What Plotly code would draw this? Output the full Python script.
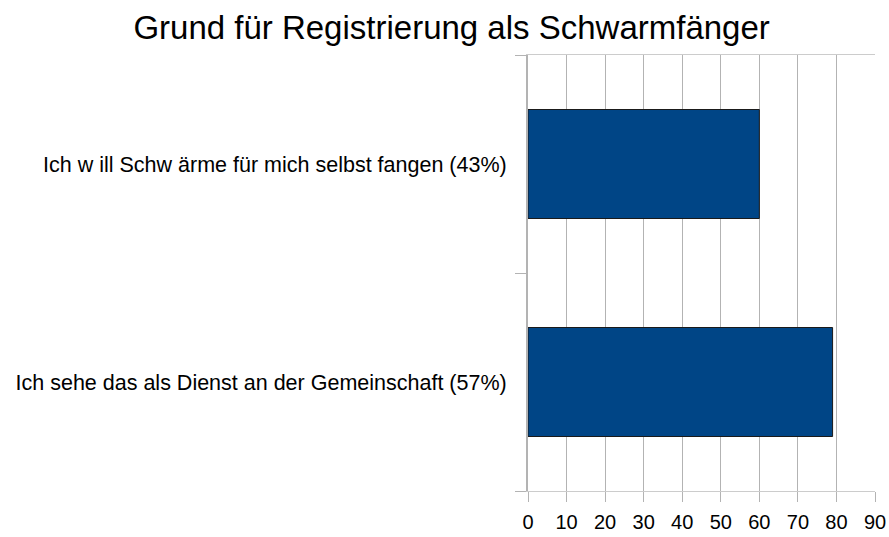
import plotly.graph_objects as go

categories = [
    "Ich w ill Schw ärme für mich selbst fangen (43%)",
    "Ich sehe das als Dienst an der Gemeinschaft (57%)",
]
values = [60, 79]
x_ticks = [0, 10, 20, 30, 40, 50, 60, 70, 80, 90]

fig = go.Figure(
    go.Bar(
        x=values,
        y=categories,
        orientation="h",
        width=0.5,
        marker=dict(color="#004586", line=dict(color="#1a1a1a", width=1)),
    )
)

fig.update_layout(
    width=889,
    height=537,
    paper_bgcolor="white",
    plot_bgcolor="white",
    margin=dict(l=528, r=14, t=55, b=46),
    showlegend=False,
    font=dict(family="Liberation Sans, Arial, sans-serif", color="black"),
    title=dict(
        text="Grund für Registrierung als Schwarmfänger",
        x=0.508,
        xanchor="center",
        y=0.948,
        yanchor="middle",
        font=dict(size=33, color="black"),
    ),
)

fig.update_xaxes(
    range=[0, 90],
    tickvals=x_ticks,
    ticktext=[str(v) for v in x_ticks],
    showgrid=True,
    gridcolor="#b3b3b3",
    gridwidth=1,
    zeroline=False,
    showline=True,
    linecolor="#cccccc",
    linewidth=1,
    mirror=True,
    ticks="outside",
    ticklen=10,
    tickcolor="#b3b3b3",
    tickfont=dict(size=20),
    ticklabelstandoff=3,
    ticklabeloverflow="allow",
    automargin=False,
)

fig.update_yaxes(
    categoryorder="array",
    categoryarray=list(reversed(categories)),
    tickson="boundaries",
    ticks="outside",
    ticklen=11,
    tickcolor="#b3b3b3",
    showline=True,
    linecolor="#b3b3b3",
    linewidth=2,
    showgrid=False,
    tickfont=dict(size=21.5),
    ticklabelstandoff=15,
    ticklabeloverflow="allow",
    automargin=False,
)

# remove the browser's default 8px body margin so the figure fills the window
fig.write_html(
    "out.html",
    config={"displayModeBar": False},
    post_script="document.body.style.margin='0';document.body.style.overflow='hidden';",
)
